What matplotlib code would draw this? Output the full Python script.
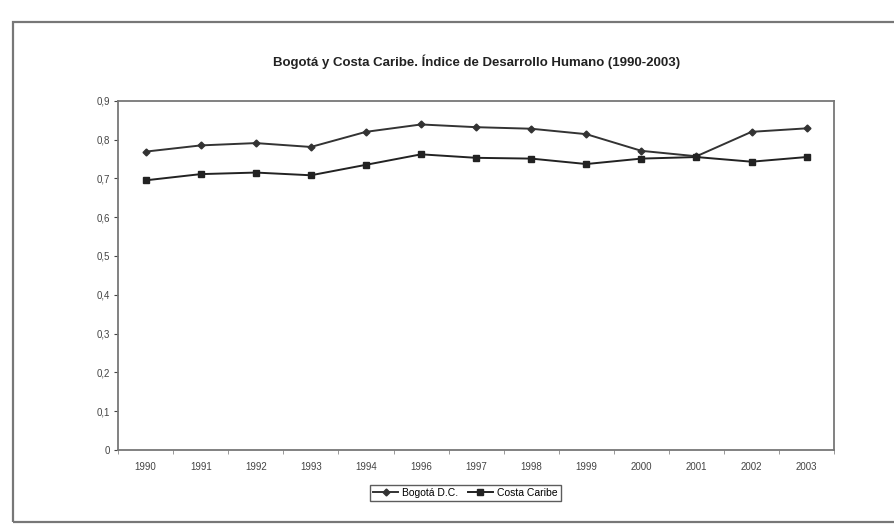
import matplotlib
matplotlib.use("Agg")
import matplotlib.pyplot as plt
from matplotlib.ticker import FuncFormatter, FixedLocator
from matplotlib.patches import Rectangle

plt.rcParams['font.family'] = ['Liberation Sans', 'DejaVu Sans']

years = ['1990', '1991', '1992', '1993', '1994', '1996', '1997',
         '1998', '1999', '2000', '2001', '2002', '2003']
bogota = [0.769, 0.785, 0.791, 0.781, 0.820, 0.839, 0.832,
          0.828, 0.814, 0.771, 0.757, 0.820, 0.829]
costa = [0.695, 0.711, 0.715, 0.708, 0.735, 0.762, 0.753,
         0.751, 0.737, 0.751, 0.755, 0.743, 0.755]

fig = plt.figure(figsize=(8.95, 5.25), dpi=100)
ax = fig.add_axes([0.132, 0.143, 0.800, 0.665])

x = range(len(years))
ax.plot(x, bogota, color='#333333', lw=1.4, marker='D', ms=3.5,
        label='Bogotá D.C.')
ax.plot(x, costa, color='#222222', lw=1.4, marker='s', ms=4,
        label='Costa Caribe')

ax.set_xlim(-0.5, len(years) - 0.5)
ax.set_ylim(0, 0.9)
ax.set_yticks([i / 10 for i in range(10)])
ax.yaxis.set_major_formatter(FuncFormatter(
    lambda v, p: '0' if v == 0 else f'{v:.1f}'.replace('.', ',')))
ax.set_xticks(list(x))
ax.set_xticklabels(years)
ax.xaxis.set_minor_locator(FixedLocator([i - 0.5 for i in range(len(years) + 1)]))
ax.tick_params(axis='x', which='major', length=0, pad=9, labelsize=7,
               colors='#444444')
ax.tick_params(axis='x', which='minor', length=3, color='#888888')
ax.tick_params(axis='y', length=3, pad=3, labelsize=7, colors='#444444')

for s in ax.spines.values():
    s.set_color('#777777')
    s.set_linewidth(1.3)

ax.set_title('Bogotá y Costa Caribe. Índice de Desarrollo Humano (1990-2003)',
             fontsize=9.5, fontweight='bold', color='#222222', pad=25)

leg = ax.legend(loc='upper center', bbox_to_anchor=(0.485, -0.085), ncol=2,
                fontsize=7.5, frameon=True, fancybox=False, borderpad=0.3,
                handlelength=2.4, columnspacing=0.9, handletextpad=0.4)
leg.get_frame().set_edgecolor('#333333')
leg.get_frame().set_linewidth(1.0)

# outer chart border
fig.patches.append(Rectangle((13 / 895, 3 / 525), 1.0, 500 / 525,
                             transform=fig.transFigure, fill=False,
                             edgecolor='#777777', lw=1.6))

fig.savefig('out.png', dpi=100)
